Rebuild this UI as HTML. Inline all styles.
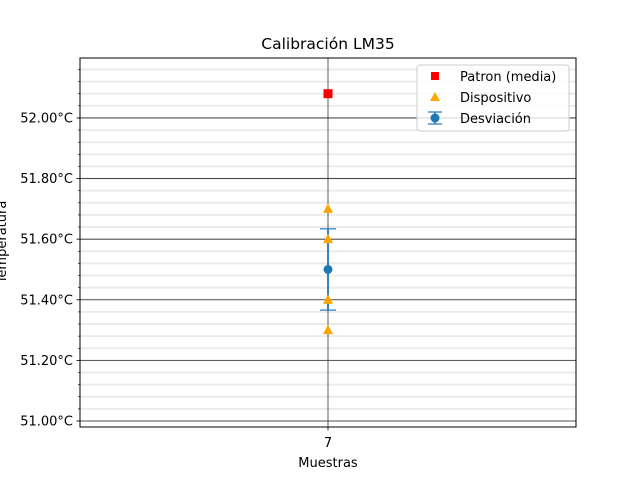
<!DOCTYPE html>
<html><head><meta charset="utf-8"><style>
body{margin:0;background:#fff;font-family:"DejaVu Sans","Liberation Sans",sans-serif}
svg text{font-family:"DejaVu Sans","Liberation Sans",sans-serif;fill:#000}
</style></head><body>
<svg id="c" width="640" height="480" xmlns="http://www.w3.org/2000/svg"></svg>
<script>
const categories=["7"];
const patronValues=[52.08];
const deviceValues=[51.7,51.6,51.4,51.3];
const meanValues=[51.5];
const stdValues=[0.134];
const yTicks=[51.0,51.2,51.4,51.6,51.8,52.0];
const yTickLabels=["51.00°C","51.20°C","51.40°C","51.60°C","51.80°C","52.00°C"];
const NS="http://www.w3.org/2000/svg";
const svg=document.getElementById('c');
const L=80,R=576,T=58,B=427,yMin=50.9802,yMax=52.1978;
const y=v=>B-(v-yMin)/(yMax-yMin)*(B-T);
const x=i=>L+(R-L)/2;
function el(t,a,p){const e=document.createElementNS(NS,t);for(const k in a)e.setAttribute(k,a[k]);(p||svg).appendChild(e);return e;}
// minor grid
for(let k=0;k<=30;k++){const v=51.0+k*0.04-0.04*0;const vv=Math.round((50.96+k*0.04)*100)/100;if(vv<yMin||vv>yMax)continue;
 const g=el('line',{x1:L,x2:R,y1:y(vv),y2:y(vv),stroke:'#ebebeb','stroke-width':2});
 
 
 const t=el('line',{x1:L-2,x2:L,y1:y(vv),y2:y(vv),stroke:'#000','stroke-width':0.6});
 
 }
yTicks.forEach((v,i)=>{
 const g=el('line',{x1:L,x2:R,y1:y(v),y2:y(v),stroke:'#333','stroke-width':0.8});
 
 
 el('line',{x1:L-3.5,x2:L,y1:y(v),y2:y(v),stroke:'#000','stroke-width':0.8});
 const t=el('text',{x:L-7,y:y(v)+4.5,'text-anchor':'end','font-size':13});t.textContent=yTickLabels[i];
 
 
});
categories.forEach((c,i)=>{
 const g=el('line',{x1:x(i),x2:x(i),y1:T,y2:B,stroke:'#333','stroke-width':0.8});
 
 
 el('line',{x1:x(i),x2:x(i),y1:B,y2:B+3.5,stroke:'#000','stroke-width':0.8});
 const t=el('text',{x:x(i),y:B+20,'text-anchor':'middle','font-size':13});t.textContent=c;
 
 
 // errorbar
 const lo=y(meanValues[i]-stdValues[i]),hi=y(meanValues[i]+stdValues[i]);
 const eb=el('g',{});
 
 
 el('line',{x1:x(i),x2:x(i),y1:lo,y2:hi,stroke:'#1f77b4','stroke-width':1.8},eb);
 el('line',{x1:x(i)-8,x2:x(i)+8,y1:lo,y2:lo,stroke:'#1f77b4','stroke-width':1.2},eb);
 el('line',{x1:x(i)-8,x2:x(i)+8,y1:hi,y2:hi,stroke:'#1f77b4','stroke-width':1.2},eb);
 el('circle',{cx:x(i),cy:y(meanValues[i]),r:4.5,fill:'#1f77b4'},eb);
 deviceValues.forEach(v=>{const yy=y(v);
  const p=el('polygon',{points:`${x(i)},${yy-5.5} ${x(i)-5},${yy+4} ${x(i)+5},${yy+4}`,fill:'orange'});
  
  });
 const s=el('rect',{x:x(i)-4.5,y:y(patronValues[i])-4.5,width:9,height:9,fill:'red'});
 
 
});
const fr=el('rect',{x:L,y:T,width:R-L,height:B-T,fill:'none',stroke:'#000','stroke-width':1});


let t=el('text',{x:328,y:49,'text-anchor':'middle','font-size':15.5});t.textContent='Calibración LM35';


t=el('text',{x:328,y:467,'text-anchor':'middle','font-size':13});t.textContent='Muestras';


t=el('text',{x:0,y:0,'text-anchor':'middle','font-size':13,transform:'translate(6,242) rotate(-90)'});t.textContent='Temperatura';


// legend
const lg=el('g',{});


el('rect',{x:417,y:65,width:152,height:66,rx:3,fill:'#fff','fill-opacity':0.8,stroke:'#ccc'},lg);
el('rect',{x:431,y:72,width:8,height:8,fill:'red'},lg);
el('polygon',{points:'435,92 430,101 440,101',fill:'orange'},lg);
el('line',{x1:435,x2:435,y1:112,y2:124,stroke:'#1f77b4','stroke-width':1.5},lg);
el('line',{x1:428,x2:442,y1:112,y2:112,stroke:'#1f77b4','stroke-width':1.2},lg);
el('line',{x1:428,x2:442,y1:124,y2:124,stroke:'#1f77b4','stroke-width':1.2},lg);
el('circle',{cx:435,cy:118,r:4.5,fill:'#1f77b4'},lg);
[['Patron (media)',81],['Dispositivo',102],['Desviación',123]].forEach(([s,yy])=>{
 const tt=el('text',{x:460,y:yy,'font-size':13},lg);tt.textContent=s;
 
 });
</script>
</body></html>
